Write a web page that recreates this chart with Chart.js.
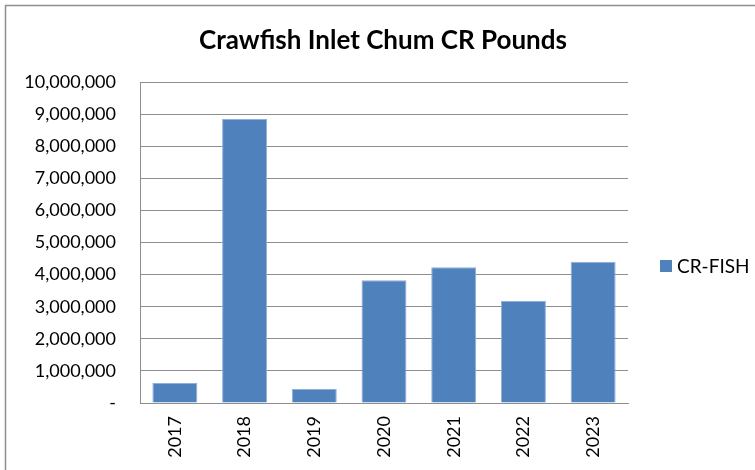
<!DOCTYPE html>
<html><head><meta charset="utf-8">
<script src="https://cdn.jsdelivr.net/npm/chart.js@4"></script>
<style>html,body{margin:0;padding:0;background:#fff}canvas{display:block}</style>
</head><body>
<canvas id="c" width="755" height="470"></canvas>
<script>
const categories = ['2017', '2018', '2019', '2020', '2021', '2022', '2023'];
const crFish = [620000, 8850000, 440000, 3830000, 4230000, 3180000, 4400000];
const seriesName = 'CR-FISH';
const yTickValues = [0, 1000000, 2000000, 3000000, 4000000, 5000000, 6000000, 7000000, 8000000, 9000000, 10000000];
const chartTitle = 'Crawfish Inlet Chum CR Pounds';

const FONT = 'Lato, "Open Sans", sans-serif';
const BAR = '#4F81BD';

const framePlugin = {
  id: 'frame',
  beforeDraw(chart) {
    const ctx = chart.ctx;
    ctx.save();
    ctx.fillStyle = '#fff';
    ctx.fillRect(0, 0, chart.width, chart.height);
    ctx.strokeStyle = '#8e8e8e';
    ctx.lineWidth = 1.5;
    ctx.beginPath();
    ctx.moveTo(5.5, chart.height);
    ctx.lineTo(5.5, 5.5);
    ctx.lineTo(chart.width, 5.5);
    ctx.stroke();
    ctx.restore();
  },
  afterDraw(chart) {
    const ctx = chart.ctx;
    const a = chart.chartArea;
    ctx.save();
    const x = a.right + 32;
    const y = 266;
    ctx.fillStyle = BAR;
    ctx.fillRect(x, y - 6, 12, 12);
    ctx.fillStyle = '#000';
    ctx.font = '19px ' + FONT;
    ctx.textBaseline = 'middle';
    ctx.textAlign = 'left';
    ctx.fillText(seriesName, x + 17, y + 1);
    ctx.restore();
  }
};

new Chart(document.getElementById('c'), {
  type: 'bar',
  data: {
    labels: categories,
    datasets: [{
      label: seriesName,
      data: crFish,
      backgroundColor: BAR,
      borderColor: '#8fb0d8',
      borderWidth: 1,
      barPercentage: 0.645,
      categoryPercentage: 1.0,
      yAxisID: 'y'
    }]
  },
  options: {
    responsive: false,
    animation: false,
    devicePixelRatio: 1,
    layout: { padding: { left: 11, right: 0, top: 0, bottom: 0 } },
    plugins: {
      legend: { display: false },
      tooltip: { enabled: false },
      title: {
        display: true,
        text: chartTitle,
        color: '#000',
        font: { family: FONT, size: 26, weight: 'bold', lineHeight: 1.2 },
        padding: { top: 25, bottom: 26 }
      }
    },
    scales: {
      x: {
        grid: { display: false, drawTicks: false },
        border: { display: true, color: '#8e8e8e', width: 1 },
        ticks: { color: '#000', font: { family: FONT, size: 18 }, minRotation: 90, maxRotation: 90, padding: 13 },
        afterFit(s) { s.height = 67; }
      },
      y: {
        min: 0,
        max: 10000000,
        afterBuildTicks(s) { s.ticks = yTickValues.map(v => ({ value: v })); },
        grid: { color: '#8e8e8e', lineWidth: 1, drawTicks: false },
        border: { display: true, color: '#8e8e8e', width: 1 },
        ticks: {
          color: '#000',
          font: { family: FONT, size: 18 },
          padding: 24,
          callback: v => v === 0 ? '-' : Number(v).toLocaleString('en-US')
        },
        afterFit(s) { s.width = 129; }
      },
      legendSpace: {
        type: 'linear',
        position: 'right',
        display: true,
        grid: { display: false, drawTicks: false },
        border: { display: false },
        ticks: { display: false },
        afterFit(s) { s.width = 127; }
      }
    }
  },
  plugins: [framePlugin]
});
</script>
</body></html>
